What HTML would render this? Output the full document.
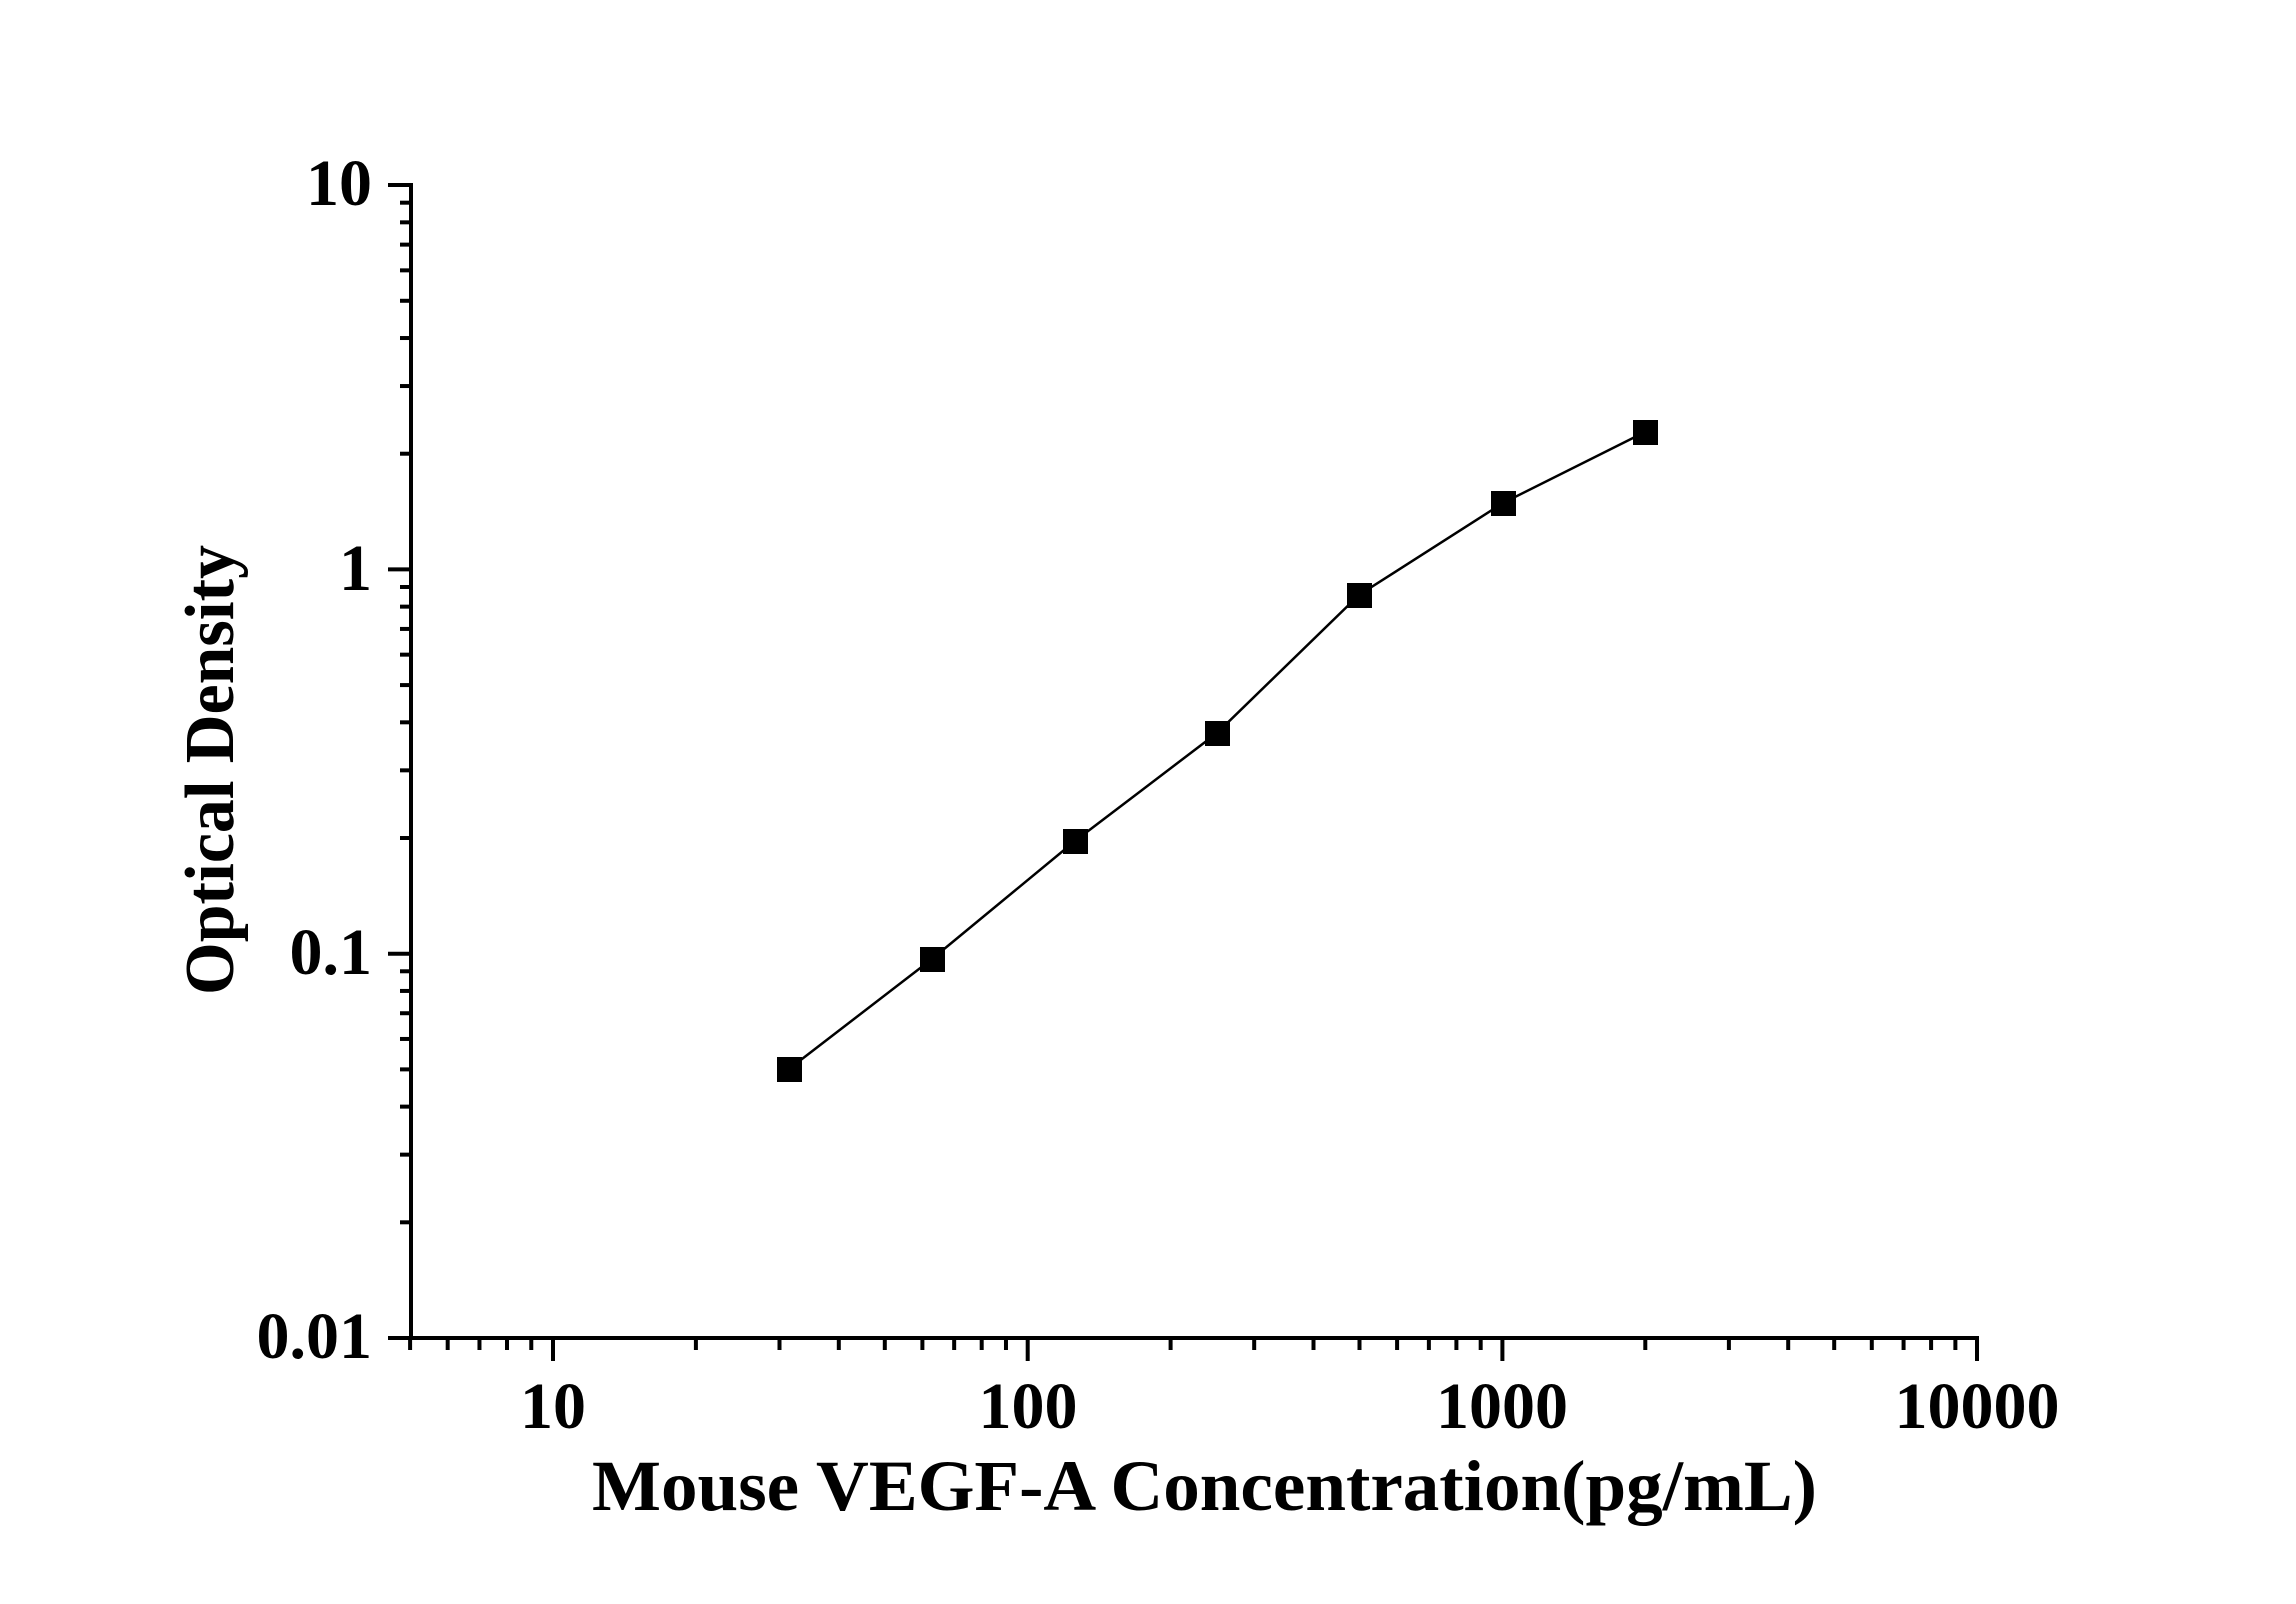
<!DOCTYPE html>
<html><head><meta charset="utf-8"><style>
html,body{margin:0;padding:0;background:#fff;}
svg{display:block;}
text{font-family:"Liberation Serif",serif;font-weight:bold;fill:#000;}
</style></head><body>
<svg id="s" width="2296" height="1604" viewBox="0 0 2296 1604" xmlns="http://www.w3.org/2000/svg">
<rect width="2296" height="1604" fill="#fff"/>
<g id="ticks" stroke="#000" stroke-width="4"></g>
<line x1="411" y1="183" x2="411" y2="1340" stroke="#000" stroke-width="4"/>
<line x1="409" y1="1338" x2="1979" y2="1338" stroke="#000" stroke-width="4"/>
<g font-size="66" text-anchor="end">
<text x="372" y="205">10</text>
<text x="372" y="590">1</text>
<text x="372" y="974">0.1</text>
<text x="372" y="1358">0.01</text>
</g>
<g font-size="66" text-anchor="middle">
<text x="553" y="1428">10</text>
<text x="1028" y="1428">100</text>
<text x="1502" y="1428">1000</text>
<text x="1977" y="1428">10000</text>
</g>
<text x="592" y="1510" font-size="72" textLength="1225" lengthAdjust="spacingAndGlyphs">Mouse VEGF-A Concentration(pg/mL)</text>
<text transform="translate(233,995) rotate(-90)" font-size="70" textLength="450" lengthAdjust="spacingAndGlyphs">Optical Density</text>
<polyline fill="none" stroke="#000" stroke-width="2.5" points="789,1069 932,959 1075,841 1217,733 1359,595 1503,503 1645,432"/>
<g fill="#000">
<rect x="777" y="1057" width="25" height="25"/>
<rect x="920" y="947" width="25" height="25"/>
<rect x="1063" y="829" width="25" height="25"/>
<rect x="1205" y="721" width="25" height="25"/>
<rect x="1347" y="583" width="25" height="25"/>
<rect x="1491" y="491" width="25" height="25"/>
<rect x="1633" y="420" width="25" height="25"/>
</g>
</svg>
<script>
var g=document.getElementById('ticks'),ns="http://www.w3.org/2000/svg";
function L(a,b,c,d){var l=document.createElementNS(ns,'line');l.setAttribute('x1',a);l.setAttribute('y1',b);l.setAttribute('x2',c);l.setAttribute('y2',d);g.appendChild(l);}
var D=474.7;
for(var k=-1;k<3;k++){for(var m=1;m<10;m++){var x=553+D*(k+Math.log10(m));if(x<405||x>1980)continue;if(m==1)L(x,1338,x,1361);else L(x,1338,x,1350);}}
L(1977,1338,1977,1361);
var E=384.3;
for(var k=0;k<3;k++){for(var m=1;m<10;m++){var y=1338-E*(k+Math.log10(m));if(m==1)L(388,y,411,y);else L(400,y,411,y);}}
L(388,185,411,185);
</script>
</body></html>
